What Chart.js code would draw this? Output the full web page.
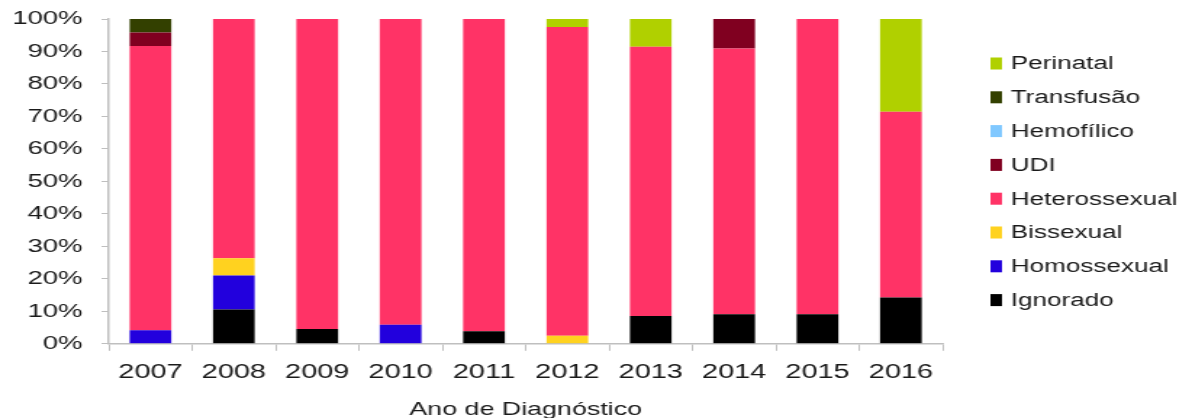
<!DOCTYPE html>
<html lang="pt">
<head>
<meta charset="utf-8">
<title>Categoria de exposição por ano de diagnóstico</title>
<script src="https://cdn.jsdelivr.net/npm/chart.js@4/dist/chart.umd.min.js"></script>
<style>
  html, body { margin: 0; padding: 0; background: #fff; overflow: hidden; }
  /* chart is laid out narrow and then widened, giving the broad lettering */
  #wrap { width: 822px; height: 418px; transform: scaleX(1.4501); transform-origin: 0 0; }
</style>
</head>
<body>
<div id="wrap"><canvas id="expoChart" width="822" height="418"></canvas></div>
<script>
// Anos de diagnóstico
const anos = ['2007', '2008', '2009', '2010', '2011', '2012', '2013', '2014', '2015', '2016'];

// Percentual de casos por categoria de exposição (cada ano soma 100%)
const ignorado      = [0, 10.53, 4.55, 0, 3.85, 0, 8.57, 9.09, 9.09, 14.29];
const homossexual   = [4.17, 10.53, 0, 5.88, 0, 0, 0, 0, 0, 0];
const bissexual     = [0, 5.26, 0, 0, 0, 2.5, 0, 0, 0, 0];
const heterossexual = [87.5, 73.68, 95.45, 94.12, 96.15, 95, 82.86, 81.82, 90.91, 57.14];
const udi           = [4.17, 0, 0, 0, 0, 0, 0, 9.09, 0, 0];
const hemofilico    = [0, 0, 0, 0, 0, 0, 0, 0, 0, 0];
const transfusao    = [4.16, 0, 0, 0, 0, 0, 0, 0, 0, 0];
const perinatal     = [0, 0, 0, 0, 0, 2.5, 8.57, 0, 0, 28.57];

const yTicks = [0, 10, 20, 30, 40, 50, 60, 70, 80, 90, 100];

const FONT = '"Liberation Sans", Arial, sans-serif';
const TEXT = '#1a1a1a';
const AXIS = '#bfbfbf';

function serie(label, data, color) {
    return { label: label, data: data, backgroundColor: color, borderWidth: 0 };
}

// Legend drawn on the right, top item = last stacked series
const legendaLateral = {
    id: 'legendaLateral',
    afterDraw(chart) {
        const ctx = chart.ctx;
        const sets = chart.data.datasets.slice().reverse();
        ctx.save();
        ctx.font = '18px ' + FONT;
        ctx.textBaseline = 'middle';
        ctx.textAlign = 'left';
        sets.forEach((ds, i) => {
            const y = 63.5 + i * 33.8;
            ctx.fillStyle = ds.backgroundColor;
            ctx.fillRect(683, y - 6, 8, 12);
            ctx.fillStyle = TEXT;
            ctx.fillText(ds.label, 697, y + 1);
        });
        ctx.restore();
    }
};

const ctx = document.getElementById('expoChart').getContext('2d');
new Chart(ctx, {
    type: 'bar',
    data: {
        labels: anos,
        datasets: [
            serie('Ignorado', ignorado, '#000000'),
            serie('Homossexual', homossexual, '#2200dd'),
            serie('Bissexual', bissexual, '#ffd21f'),
            serie('Heterossexual', heterossexual, '#ff3366'),
            serie('UDI', udi, '#800020'),
            serie('Hemofílico', hemofilico, '#80c8ff'),
            serie('Transfusão', transfusao, '#334000'),
            serie('Perinatal', perinatal, '#b0d000')
        ]
    },
    options: {
        responsive: false,
        animation: false,
        devicePixelRatio: 1,
        datasets: { bar: { categoryPercentage: 1, barPercentage: 0.5 } },
        layout: { padding: { top: 19, right: 172, bottom: 0, left: 0 } },
        plugins: {
            legend: { display: false },
            tooltip: { enabled: false }
        },
        scales: {
            x: {
                stacked: true,
                grid: { drawOnChartArea: false, tickLength: 7, color: AXIS, lineWidth: 1 },
                border: { color: AXIS, width: 1.5 },
                ticks: { color: TEXT, padding: 10, font: { family: FONT, size: 20 } },
                title: {
                    display: true,
                    text: 'Ano de Diagnóstico',
                    color: TEXT,
                    font: { family: FONT, size: 18.5 },
                    padding: { top: 4, bottom: -3 }
                }
            },
            y: {
                stacked: true,
                min: 0,
                max: 100,
                afterFit(scale) {
                    scale.width = 75;
                    scale.paddingTop = 0;
                    scale.paddingBottom = 0;
                },
                afterBuildTicks(scale) { scale.ticks = yTicks.map(v => ({ value: v })); },
                grid: { drawOnChartArea: false, tickLength: 5, color: AXIS, lineWidth: 1 },
                border: { color: AXIS, width: 1.5 },
                ticks: {
                    color: TEXT,
                    padding: 13,
                    font: { family: FONT, size: 19 },
                    callback: v => v + '%'
                }
            }
        }
    },
    plugins: [legendaLateral]
});
</script>
</body>
</html>
